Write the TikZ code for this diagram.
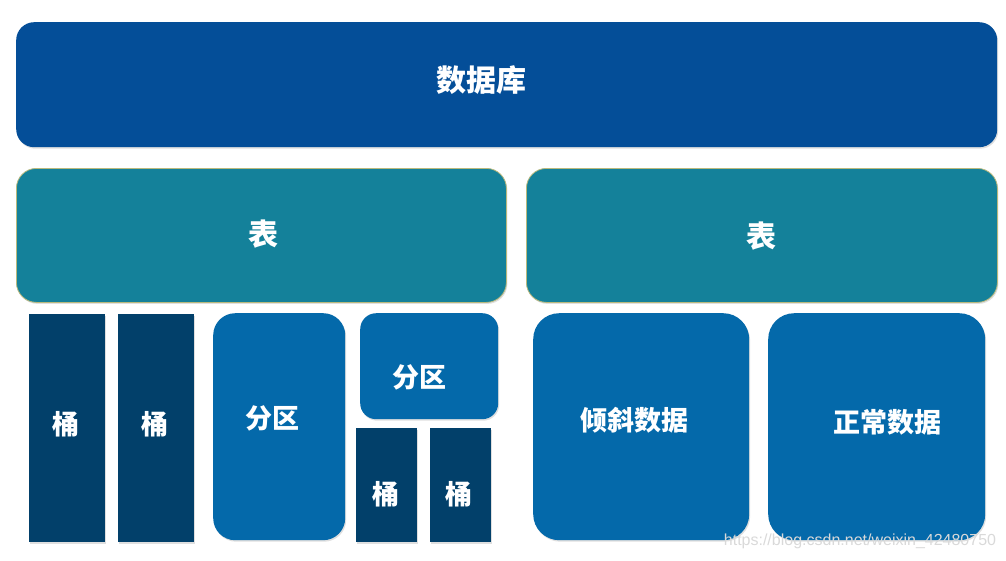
\documentclass[tikz,border=0pt]{standalone}
\usepackage{fontspec}
\newfontfamily\cjk{Noto Sans CJK SC}
\setmainfont{Liberation Sans}
\usetikzlibrary{shadows}
\definecolor{dbblue}{HTML}{044E98}
\definecolor{tabteal}{HTML}{14819A}
\definecolor{partblue}{HTML}{0469AA}
\definecolor{bucketnavy}{HTML}{02406A}
\definecolor{tabedge}{HTML}{B9B97C}
\begin{document}
\begin{tikzpicture}[x=1pt, y=-1pt,
  box/.style={anchor=north west, inner sep=0pt, drop shadow={opacity=0.25, shadow xshift=1pt, shadow yshift=-1.5pt}},
  db/.style={box, fill=dbblue, rounded corners=18pt},
  tab/.style={box, fill=tabteal, draw=tabedge, line width=0.8pt, rounded corners=20pt},
  part/.style={box, fill=partblue, rounded corners=22pt},
  bucket/.style={box, fill=bucketnavy},
  lbl/.style={text=white, font=\cjk\bfseries\fontsize{30}{30}\selectfont},
  small/.style={lbl, font=\cjk\bfseries\fontsize{27}{27}\selectfont}]

  \useasboundingbox (0,0) rectangle (1006,560);

  % Database
  \node[db, minimum width=981pt, minimum height=125pt] (DB) at (16,22) {};
  \node[lbl] (DBt) at (481,80) {数据库};

  % Tables
  \node[tab, minimum width=490pt, minimum height=134pt] (T1) at (16,168) {};
  \node[tab, minimum width=471pt, minimum height=134pt] (T2) at (526,168) {};
  \node[lbl] (T1t) at (263,234) {表};
  \node[lbl] (T2t) at (761,236) {表};

  % Left table: buckets and partitions
  \node[bucket, minimum width=76pt, minimum height=228pt] (B1) at (29,314) {};
  \node[bucket, minimum width=76pt, minimum height=228pt] (B2) at (118,314) {};
  \node[part, minimum width=132pt, minimum height=227pt] (P1) at (213,313) {};
  \node[part, minimum width=138pt, minimum height=106pt, rounded corners=16pt] (P2) at (360,313) {};
  \node[bucket, minimum width=61pt, minimum height=114pt] (B3) at (356,428) {};
  \node[bucket, minimum width=61pt, minimum height=114pt] (B4) at (430,428) {};
  \node[small] (B1t) at (66,424) {桶};
  \node[small] (B2t) at (155,424) {桶};
  \node[small] (P1t) at (272,418) {分区};
  \node[small] (P2t) at (419,377) {分区};
  \node[small] (B3t) at (386,494) {桶};
  \node[small] (B4t) at (459,494) {桶};

  % Right table: skewed and normal data
  \node[part, minimum width=216pt, minimum height=227pt, rounded corners=26pt] (S1) at (533,313) {};
  \node[part, minimum width=217pt, minimum height=227pt, rounded corners=26pt] (S2) at (768,313) {};
  \node[small] (S1t) at (634,420) {倾斜数据};
  \node[small] (S2t) at (887,422) {正常数据};

  % Watermark
  \node[text=gray!30, font=\fontsize{16}{16}\selectfont] (W) at (860,541) {https://blog.csdn.net/weixin\_42480750};

\end{tikzpicture}
\end{document}
